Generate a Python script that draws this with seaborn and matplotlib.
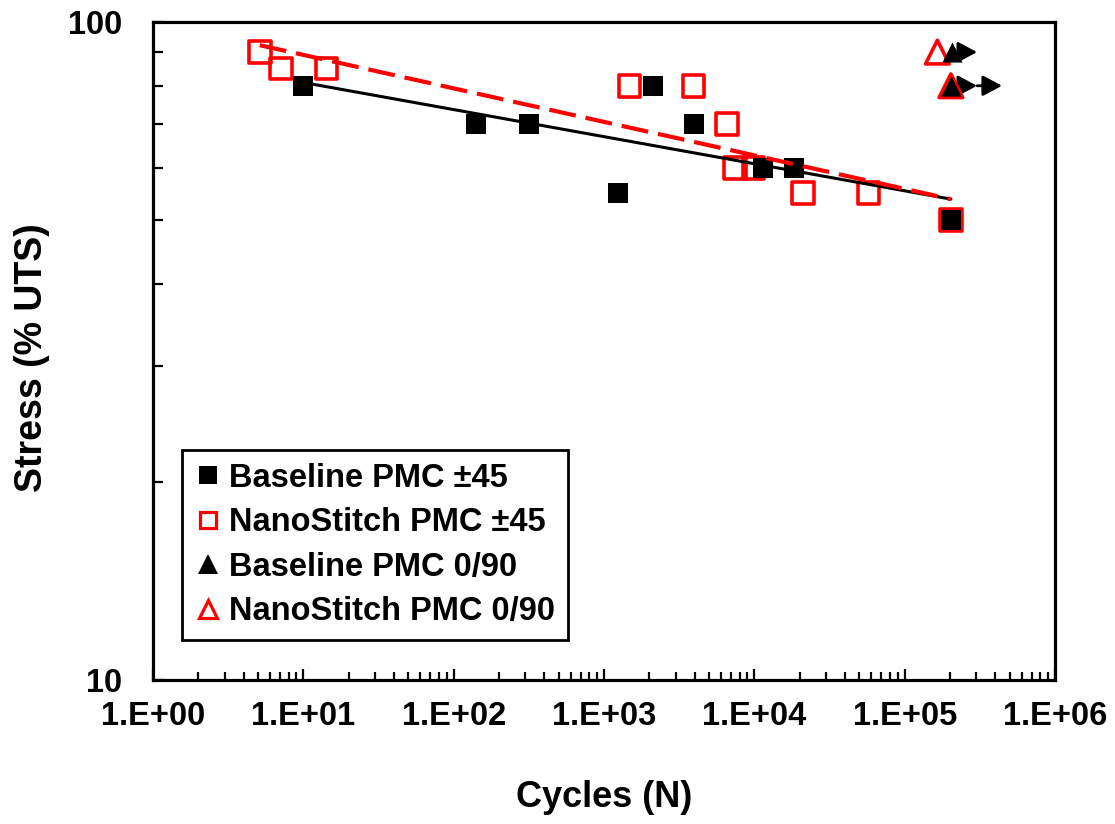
import numpy as np
import matplotlib
matplotlib.use("Agg")
import matplotlib.pyplot as plt
import seaborn as sns
from matplotlib.lines import Line2D
from matplotlib.ticker import FixedLocator, FixedFormatter, NullFormatter

# ---------------- data ----------------
base45_cycles = [10, 141, 318, 1240, 2120, 3980, 11400, 18400, 203000]
base45_stress = [80, 70, 70, 55, 80, 70, 60, 60, 50]

nano45_cycles = [5.13, 7.1, 14.3, 1476, 3935, 6560, 7450, 9860, 21000, 57400, 203000]
nano45_stress = [90, 85, 85, 80, 80, 70, 60, 60, 55, 55, 50]

base090_cycles = [207000, 203000]
base090_stress = [90, 80]

nano090_cycles = [165000, 203000]
nano090_stress = [90, 80]

runout_start_cycles = [207000, 203000, 303000]
runout_end_cycles = [303000, 303000, 444000]
runout_stress = [90, 80, 80]

legend_labels = ["Baseline PMC \u00b145", "NanoStitch PMC \u00b145",
                 "Baseline PMC 0/90", "NanoStitch PMC 0/90"]

xtick_values = [1, 10, 100, 1000, 10000, 100000, 1000000]
xtick_labels = ["1.E+00", "1.E+01", "1.E+02", "1.E+03", "1.E+04", "1.E+05", "1.E+06"]
ytick_values = [10, 100]
ytick_labels = ["10", "100"]

# ---------------- style ----------------
sns.set_theme(style="white")
plt.rcParams["font.family"] = ["Liberation Sans", "DejaVu Sans"]
plt.rcParams["font.weight"] = "bold"
for key in ["text.color", "axes.labelcolor", "xtick.color", "ytick.color"]:
    plt.rcParams[key] = "black"

fig = plt.figure(figsize=(11.15, 8.24), dpi=100)
ax = fig.add_axes([0.13722, 0.17476, 0.80897, 0.79854])
ax.set_xscale("log")
ax.set_yscale("log")
ax.set_xlim(1, 1e6)
ax.set_ylim(10, 100)

# power-law trend lines (fit in log space)
def power_fit(n, s):
    n = np.asarray(n, float)
    s = np.asarray(s, float)
    b, a = np.polyfit(np.log10(n), np.log10(s), 1)
    xs = np.logspace(np.log10(n.min()), np.log10(n.max()), 50)
    return xs, 10 ** (a + b * np.log10(xs))

bx, by = power_fit(base45_cycles, base45_stress)
nx, ny = power_fit(nano45_cycles, nano45_stress)

# markers
sns.scatterplot(x=nano45_cycles, y=nano45_stress, marker="s", s=15.5 ** 2,
                color="red", facecolor="none", edgecolor="red", linewidth=2.6,
                ax=ax, zorder=3, legend=False)
sns.scatterplot(x=base45_cycles, y=base45_stress, marker="s", s=15 ** 2,
                color="black", edgecolor="black", linewidth=0,
                ax=ax, zorder=4, legend=False)

for x0, x1, s in zip(runout_start_cycles, runout_end_cycles, runout_stress):
    ax.annotate("", xy=(x1, s), xytext=(x0, s),
                arrowprops=dict(arrowstyle="-|>,head_length=0.45,head_width=0.24",
                                color="black", lw=2.0, mutation_scale=26,
                                shrinkA=0, shrinkB=0),
                zorder=2)

sns.scatterplot(x=nano090_cycles, y=nano090_stress, marker="^", s=17 ** 2,
                color="red", facecolor="none", edgecolor="red", linewidth=2.6,
                ax=ax, zorder=3, legend=False)
sns.scatterplot(x=base090_cycles, y=base090_stress, marker="^", s=14.5 ** 2,
                color="black", edgecolor="black", linewidth=0,
                ax=ax, zorder=4, legend=False)

sns.lineplot(x=bx, y=by, color="black", lw=2.2, ax=ax, zorder=5)
sns.lineplot(x=nx, y=ny, color="red", lw=3, ax=ax, zorder=5,
             linestyle=(0, (6.5, 2.4)))

# ---------------- axes ----------------
for sp in ax.spines.values():
    sp.set_visible(True)
    sp.set_color("black")
    sp.set_linewidth(2.3)

ax.xaxis.set_major_locator(FixedLocator(xtick_values))
ax.xaxis.set_major_formatter(FixedFormatter(xtick_labels))
ax.xaxis.set_minor_locator(FixedLocator(
    [m * 10 ** k for k in range(6) for m in range(2, 10)]))
ax.xaxis.set_minor_formatter(NullFormatter())
ax.yaxis.set_major_locator(FixedLocator(ytick_values))
ax.yaxis.set_major_formatter(FixedFormatter(ytick_labels))
ax.yaxis.set_minor_locator(FixedLocator(list(range(20, 100, 10))))
ax.yaxis.set_minor_formatter(NullFormatter())

ax.tick_params(axis="x", which="major", direction="in", length=8, width=1.6,
               labelsize=23.5, pad=15, bottom=True, top=False, colors="black")
ax.tick_params(axis="x", which="minor", direction="in", length=6, width=1.6,
               bottom=True, top=False, colors="black")
ax.tick_params(axis="y", which="major", direction="in", length=8, width=1.6,
               labelsize=23.5, pad=22, left=True, right=False, colors="black")
ax.tick_params(axis="y", which="minor", direction="in", length=7, width=1.6,
               left=True, right=False, colors="black")
for lab in ax.get_xticklabels() + ax.get_yticklabels():
    lab.set_fontweight("bold")
    lab.set_color("black")

ax.set_xlabel("Cycles (N)", fontsize=26, fontweight="bold", color="black")
ax.set_ylabel("Stress (% UTS)", fontsize=27, fontweight="bold", color="black")
ax.xaxis.set_label_coords(0.5, -0.152)
ax.yaxis.set_label_coords(-0.114, 0.49)
ax.grid(False)

# ---------------- legend ----------------
handles = [
    Line2D([], [], ls="", marker="s", color="black", ms=12.5, mew=0),
    Line2D([], [], ls="", marker="s", mfc="none", mec="red", ms=11.5, mew=2.3),
    Line2D([], [], ls="", marker="^", color="black", ms=14, mew=0),
    Line2D([], [], ls="", marker="^", mfc="none", mec="red", ms=12.5, mew=2.3),
]
leg = ax.legend(handles, legend_labels, loc="lower left",
                bbox_to_anchor=(0.0322, 0.0608), borderaxespad=0,
                prop={"size": 23.5, "weight": "bold"},
                handlelength=0.8, handletextpad=0.25, borderpad=0.4,
                labelspacing=0.41, frameon=True, fancybox=False,
                framealpha=1, edgecolor="black")
leg.get_frame().set_linewidth(2.0)
for t in leg.get_texts():
    t.set_color("black")

fig.savefig("out.png", dpi=100)
